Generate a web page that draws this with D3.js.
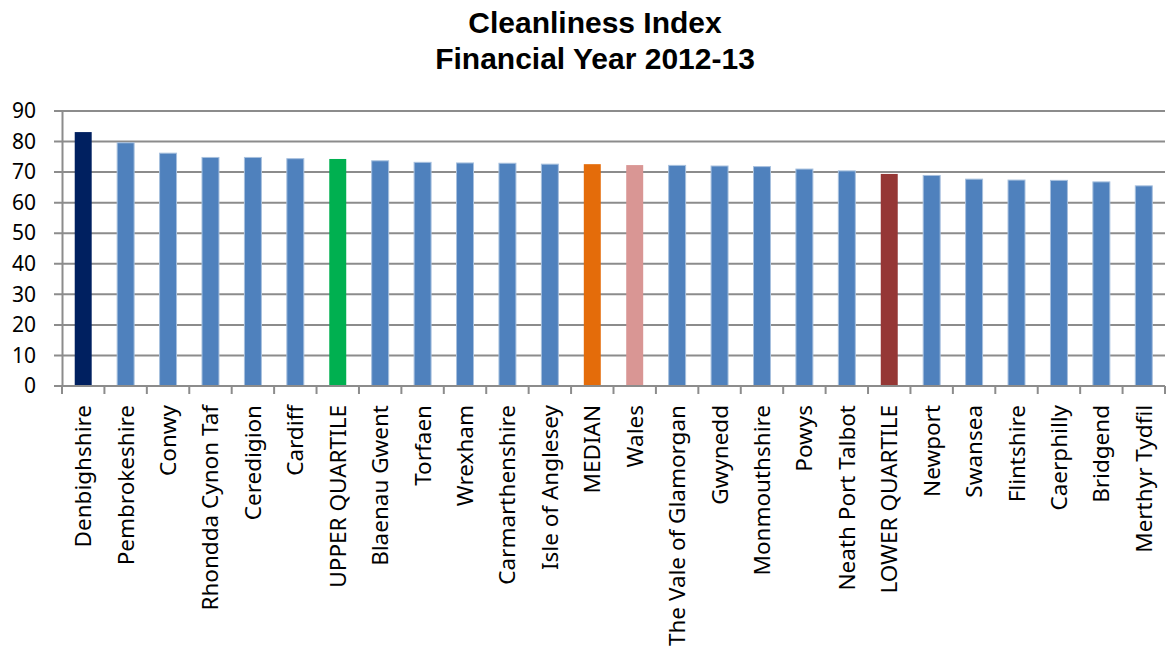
<!DOCTYPE html>
<html>
<head>
<meta charset="utf-8">
<script src="https://cdn.jsdelivr.net/npm/d3@7"></script>
<style>
  body { margin: 0; background: #fff; }
  svg { display: block; }
</style>
</head>
<body>
<div id="chart"></div>
<script>
// data
const areas = [
  'Denbighshire', 'Pembrokeshire', 'Conwy', 'Rhondda Cynon Taf', 'Ceredigion',
  'Cardiff', 'UPPER QUARTILE', 'Blaenau Gwent', 'Torfaen', 'Wrexham',
  'Carmarthenshire', 'Isle of Anglesey', 'MEDIAN', 'Wales', 'The Vale of Glamorgan',
  'Gwynedd', 'Monmouthshire', 'Powys', 'Neath Port Talbot', 'LOWER QUARTILE',
  'Newport', 'Swansea', 'Flintshire', 'Caerphilly', 'Bridgend', 'Merthyr Tydfil'
];
const scores = [
  83.1, 79.6, 76.2, 74.8, 74.8,
  74.4, 74.3, 73.7, 73.2, 73.0,
  72.9, 72.6, 72.6, 72.3, 72.2,
  72.0, 71.8, 71.0, 70.4, 69.4,
  68.9, 67.7, 67.4, 67.3, 66.8, 65.5
];
const yTicks = [0, 10, 20, 30, 40, 50, 60, 70, 80, 90];
const titleLines = ['Cleanliness Index', 'Financial Year 2012-13'];

// highlighted bars
const specialColours = {
  'Denbighshire': '#002060',
  'UPPER QUARTILE': '#00b050',
  'MEDIAN': '#e46c0a',
  'Wales': '#d99694',
  'LOWER QUARTILE': '#953735'
};
const defaultColour = '#4f81bd';

const W = 1166, H = 652;
const margin = {top: 111, right: 1, bottom: 266, left: 62};
const width = W - margin.left - margin.right;
const height = H - margin.top - margin.bottom;

const svg = d3.select('#chart').append('svg')
    .attr('width', W)
    .attr('height', H);

svg.selectAll('.title')
  .data(titleLines)
  .enter().append('text')
    .attr('class', 'title')
    .attr('x', 595)
    .attr('y', (d, i) => 33 + i * 36)
    .attr('text-anchor', 'middle')
    .style('font-family', '"Liberation Sans", Arial, sans-serif')
    .style('font-weight', 'bold')
    .style('font-size', '30px')
    .text(d => d);

const g = svg.append('g')
    .attr('transform', 'translate(' + margin.left + ',' + margin.top + ')');

const x = d3.scaleBand()
    .domain(areas)
    .range([0, width])
    .paddingInner(0.6)
    .paddingOuter(0.3);

const y = d3.scaleLinear()
    .domain([0, 90])
    .range([height, 0]);

// gridlines
g.append('g')
    .selectAll('line')
    .data(yTicks)
    .enter().append('line')
      .attr('x1', -8)
      .attr('x2', width)
      .attr('y1', d => y(d))
      .attr('y2', d => y(d))
      .attr('stroke', '#8c8c8c')
      .attr('stroke-width', 2);

// y axis
const yAxis = g.append('g')
    .call(d3.axisLeft(y).tickValues(yTicks).tickSize(0).tickPadding(8));
yAxis.select('.domain').attr('stroke', '#8c8c8c').attr('stroke-width', 2);
yAxis.selectAll('text')
    .attr('x', -26)
    .style('font-family', '"Noto Sans", sans-serif')
    .style('font-size', '21px')
    .attr('fill', '#000');

// bars
g.selectAll('.bar')
  .data(areas)
  .enter().append('rect')
    .attr('class', 'bar')
    .attr('x', d => x(d))
    .attr('width', x.bandwidth())
    .attr('y', (d, i) => y(scores[i]))
    .attr('height', (d, i) => height - y(scores[i]))
    .attr('fill', d => specialColours[d] || defaultColour)
    .attr('stroke', d => specialColours[d] ? 'none' : '#a7c0de')
    .attr('stroke-width', 1);

// x axis with category ticks between bars
const xAxis = g.append('g')
    .attr('transform', 'translate(0,' + height + ')');
xAxis.append('line')
    .attr('x1', -8).attr('x2', width)
    .attr('stroke', '#8c8c8c').attr('stroke-width', 2);
xAxis.selectAll('.tick')
  .data(d3.range(areas.length + 1))
  .enter().append('line')
    .attr('x1', i => i * width / areas.length)
    .attr('x2', i => i * width / areas.length)
    .attr('y1', 0).attr('y2', 8)
    .attr('stroke', '#8c8c8c').attr('stroke-width', 2);

xAxis.selectAll('.label')
  .data(areas)
  .enter().append('text')
    .attr('class', 'label')
    .attr('transform', d => 'translate(' + (x(d) + x.bandwidth() / 2 + 8) + ',19) rotate(-90)')
    .attr('text-anchor', 'end')
    .style('font-family', '"Noto Sans", sans-serif')
    .style('font-size', '22.5px')
    .text(d => d);
</script>
</body>
</html>
